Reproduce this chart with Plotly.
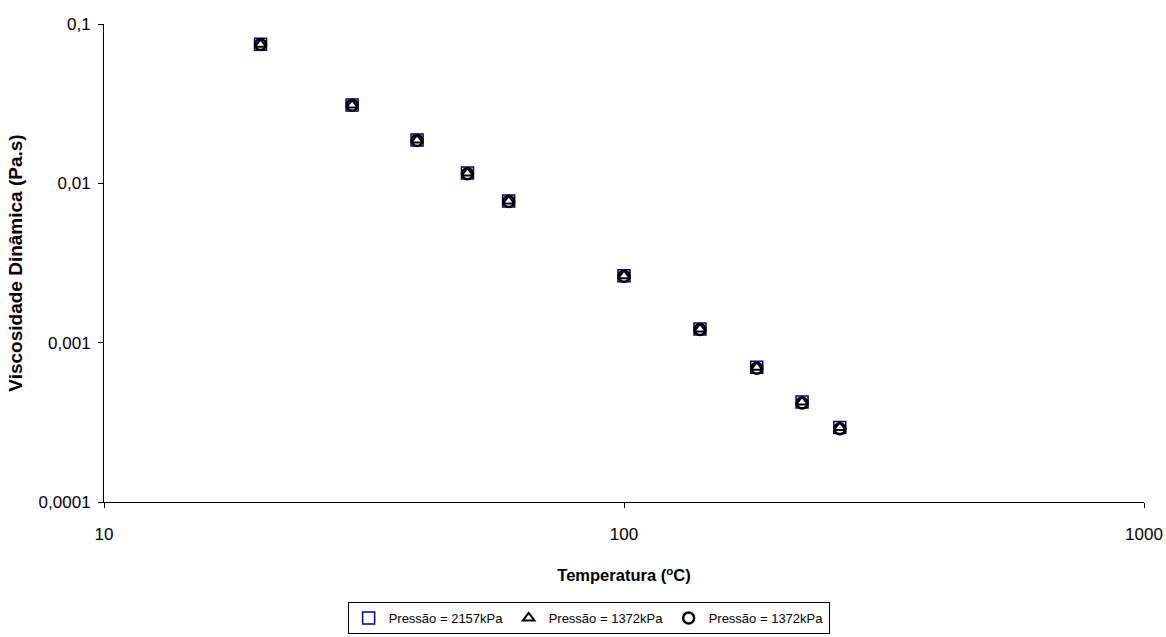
import plotly.graph_objects as go

temperatura = [20, 30, 40, 50, 60, 100, 140, 180, 220, 260]
visc_2157 = [0.0746, 0.0310, 0.0187, 0.0116, 0.00774, 0.00263, 0.00122, 0.000700, 0.000425, 0.000294]
visc_1372a = [0.0746, 0.0310, 0.0187, 0.0116, 0.00774, 0.00263, 0.00122, 0.000700, 0.000425, 0.000294]
visc_1372b = [0.0744, 0.0309, 0.0186, 0.0115, 0.00770, 0.00261, 0.00121, 0.000690, 0.000418, 0.000288]

x_ticks = [10, 100, 1000]
x_ticktext = ["10", "100", "1000"]
y_ticks = [0.0001, 0.001, 0.01, 0.1]
y_ticktext = ["0,0001", "0,001", "0,01", "0,1"]

font = "Liberation Sans, Arial, sans-serif"

fig = go.Figure()
fig.add_trace(go.Scatter(
    x=temperatura, y=visc_2157, mode="markers", name="Pressão = 2157kPa",
    marker=dict(symbol="square-open", size=12, color="#000080", line=dict(color="#000080", width=1.5)),
))
fig.add_trace(go.Scatter(
    x=temperatura, y=visc_1372a, mode="markers", name="Pressão = 1372kPa",
    marker=dict(symbol="triangle-up-open", size=10, color="black", line=dict(color="black", width=2)),
))
fig.add_trace(go.Scatter(
    x=temperatura, y=visc_1372b, mode="markers", name="Pressão = 1372kPa",
    marker=dict(symbol="circle-open", size=11, color="black", line=dict(color="black", width=2.5)),
))

fig.update_layout(
    width=1166, height=637,
    margin=dict(l=104, r=22, t=24, b=135, autoexpand=False),
    plot_bgcolor="white", paper_bgcolor="white",
    font=dict(family=font, size=13, color="black"),
    showlegend=True,
    legend=dict(
        orientation="h", x=0.466, xanchor="center", y=-0.2092, yanchor="top",
        bordercolor="black", borderwidth=1, font=dict(size=13, family=font),
        itemwidth=30, entrywidth=115, entrywidthmode="pixels", tracegroupgap=0,
    ),
    xaxis=dict(
        type="log", range=[1, 3], tickvals=x_ticks, ticktext=x_ticktext,
        showgrid=False, zeroline=False, showline=True, linecolor="black", linewidth=1,
        ticks="outside", ticklen=5, tickcolor="black", tickfont=dict(size=17),
        ticklabelstandoff=12,
        title=dict(text="<b>Temperatura (<sup>o</sup>C)</b>", font=dict(size=16.5), standoff=26),
    ),
    yaxis=dict(
        type="log", range=[-4, -1], tickvals=y_ticks, ticktext=y_ticktext,
        showgrid=False, zeroline=False, showline=True, linecolor="black", linewidth=1,
        ticks="outside", ticklen=5, tickcolor="black", tickfont=dict(size=17),
        ticklabelstandoff=4,
        title=dict(text="<b>Viscosidade Dinâmica (Pa.s)</b>", font=dict(size=19), standoff=10),
    ),
)

fig.write_html("out.html")
